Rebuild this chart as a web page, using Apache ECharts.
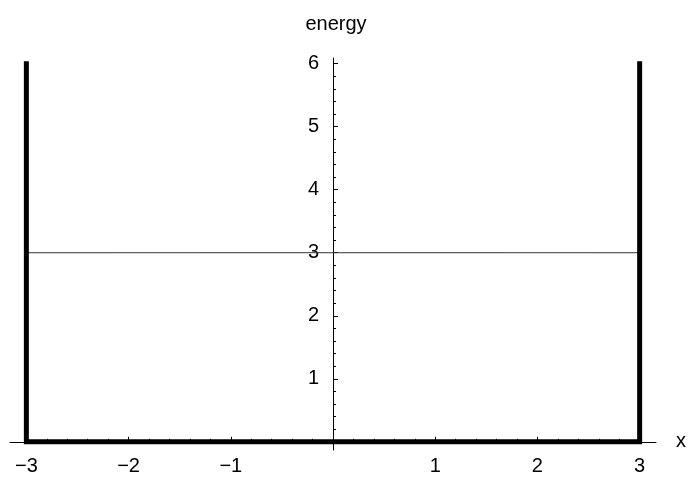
<!DOCTYPE html>
<html>
<head>
<meta charset="utf-8">
<script src="https://cdn.jsdelivr.net/npm/echarts@6/dist/echarts.min.js"></script>
<style>
html,body{margin:0;padding:0;background:#fff;}
#c{width:688px;height:477px;}
</style>
</head>
<body>
<div id="c"></div>
<script>
// ---- data ----
const wellLeft = -3;
const wellRight = 3;
const wallHeight = 6;
const energyLevel = 3;
const xMajorTicks = [-3, -2, -1, 1, 2, 3];
const yMajorTicks = [1, 2, 3, 4, 5, 6];
const xMinorTicks = [-2.8,-2.6,-2.4,-2.2,-1.8,-1.6,-1.4,-1.2,-0.8,-0.6,-0.4,-0.2,0.2,0.4,0.6,0.8,1.2,1.4,1.6,1.8,2.2,2.4,2.6,2.8];
const yMinorTicks = [0.2,0.4,0.6,0.8,1.2,1.4,1.6,1.8,2.2,2.4,2.6,2.8,3.2,3.4,3.6,3.8,4.2,4.4,4.6,4.8,5.2,5.4,5.6,5.8];
const xAxisName = 'x';
const yAxisName = 'energy';

// ---- chart ----
const font = "'Liberation Sans', Arial, sans-serif";
const fmt = v => (v < 0 ? '\u2212' + Math.abs(v) : String(v));
const xr = [-3.16, 3.16];
const yr = [-0.13, 6.09];
const W = 688, H = 477;
const gridLeft = 10, gridRight = 32, gridTop = 58, gridBottom = 27;
const plotW = W - gridLeft - gridRight;
const plotH = H - gridTop - gridBottom;
const yAxisOffset = -((0 - xr[0]) / (xr[1] - xr[0]) * plotW);
const xAxisOffset = -((0 - yr[0]) / (yr[1] - yr[0]) * plotH);

const wallData = [[wellLeft, wallHeight],[wellLeft, 0],[wellRight, 0],[wellRight, wallHeight]];
const energyData = [[wellLeft, energyLevel],[wellRight, energyLevel]];

const chart = echarts.init(document.getElementById('c'), null, {renderer: 'canvas'});
chart.setOption({
  animation: false,
  backgroundColor: '#fff',
  grid: {left: gridLeft, right: gridRight, top: gridTop, bottom: gridBottom, containLabel: false, outerBoundsMode: 'none'},
  xAxis: [{
    type: 'value', min: xr[0], max: xr[1], position: 'bottom', offset: xAxisOffset,
    name: xAxisName, nameLocation: 'end', nameGap: 20,
    nameTextStyle: {fontFamily: font, fontSize: 20, color: '#000', verticalAlign: 'middle', align: 'left'},
    axisLine: {show: true, onZero: false, lineStyle: {color: '#000', width: 1}},
    axisTick: {show: true, inside: true, length: 5, customValues: xMajorTicks, lineStyle: {color: '#000', width: 1}},
    axisLabel: {show: true, customValues: xMajorTicks, formatter: fmt, margin: 15, fontFamily: font, fontSize: 20, color: '#000'},
    splitLine: {show: false}
  }, {
    type: 'value', min: xr[0], max: xr[1], position: 'bottom', offset: xAxisOffset,
    axisLine: {show: false, onZero: false},
    axisTick: {show: true, inside: true, length: 3, customValues: xMinorTicks, lineStyle: {color: '#000', width: 1}},
    axisLabel: {show: false},
    splitLine: {show: false}
  }],
  yAxis: [{
    type: 'value', min: yr[0], max: yr[1], position: 'left', offset: yAxisOffset,
    name: yAxisName, nameLocation: 'end', nameGap: 34,
    nameTextStyle: {fontFamily: font, fontSize: 20, color: '#000', align: 'center', verticalAlign: 'middle', padding: [0, 0, 0, 6]},
    axisLine: {show: true, onZero: false, lineStyle: {color: '#000', width: 1}},
    axisTick: {show: true, inside: true, length: 5, customValues: yMajorTicks, lineStyle: {color: '#000', width: 1}},
    axisLabel: {show: true, customValues: yMajorTicks, formatter: fmt, margin: 14, fontFamily: font, fontSize: 20, color: '#000'},
    splitLine: {show: false}
  }, {
    type: 'value', min: yr[0], max: yr[1], position: 'left', offset: yAxisOffset,
    axisLine: {show: false, onZero: false},
    axisTick: {show: true, inside: true, length: 3, customValues: yMinorTicks, lineStyle: {color: '#000', width: 1}},
    axisLabel: {show: false},
    splitLine: {show: false}
  }],
  series: [{
    type: 'line', xAxisIndex: 0, yAxisIndex: 0,
    data: energyData, symbol: 'none', silent: true,
    lineStyle: {color: '#333', width: 1}
  }, {
    type: 'line', xAxisIndex: 0, yAxisIndex: 0,
    data: wallData, symbol: 'none', silent: true,
    lineStyle: {color: '#000', width: 5, cap: 'square', join: 'miter'}
  }]
});
</script>
</body>
</html>
